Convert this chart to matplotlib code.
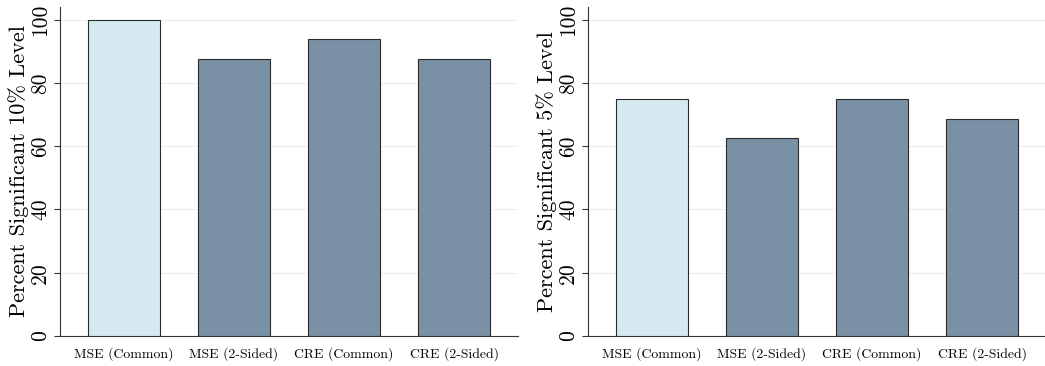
import matplotlib.pyplot as plt

plt.rcParams['font.family'] = ['cmr10', 'DejaVu Serif']
plt.rcParams['mathtext.fontset'] = 'cm'
plt.rcParams['axes.formatter.use_mathtext'] = True

models = ["MSE (Common)", "MSE (2-Sided)", "CRE (Common)", "CRE (2-Sided)"]
sig10 = [100, 87.5, 93.75, 87.5]
sig5 = [75, 62.5, 75, 68.75]
ylabels = ["Percent Significant 10% Level", "Percent Significant 5% Level"]

light = "#d5eaf0"
dark = "#7a90a4"
colors = [light, dark, dark, dark]

fig = plt.figure(figsize=(10.45, 3.66), dpi=100)
ax1 = fig.add_axes([60/1045, 30/366, 458/1045, 329/366])
ax2 = fig.add_axes([588/1045, 30/366, 458/1045, 329/366])

for ax, vals, lab in zip([ax1, ax2], [sig10, sig5], ylabels):
    ax.bar(range(len(models)), vals, width=0.66, color=colors,
           edgecolor="#2b2b2b", linewidth=0.8, zorder=3)
    ax.set_xlim(-0.58, 3.58)
    ax.set_ylim(0, 104)
    ax.set_yticks([0, 20, 40, 60, 80, 100])
    ax.set_yticklabels(["0", "20", "40", "60", "80", "100"], rotation=90,
                       va="center", fontsize=15.5)
    ax.set_xticks(range(len(models)))
    ax.set_xticklabels(models, fontsize=9.9)
    ax.tick_params(axis="x", length=0, pad=8)
    ax.tick_params(axis="y", length=4, width=0.8, color="#333333", pad=3)
    ax.yaxis.grid(True, color="#eaf0f0", linewidth=0.9, zorder=0)
    ax.set_axisbelow(True)
    for s in ["top", "right"]:
        ax.spines[s].set_visible(False)
    ax.spines["left"].set_color("#333333")
    ax.spines["bottom"].set_color("#333333")
    ax.spines["left"].set_linewidth(0.8)
    ax.spines["bottom"].set_linewidth(0.8)
    ax.set_ylabel(lab, fontsize=16, labelpad=1)

fig.savefig("out.png", dpi=100)
